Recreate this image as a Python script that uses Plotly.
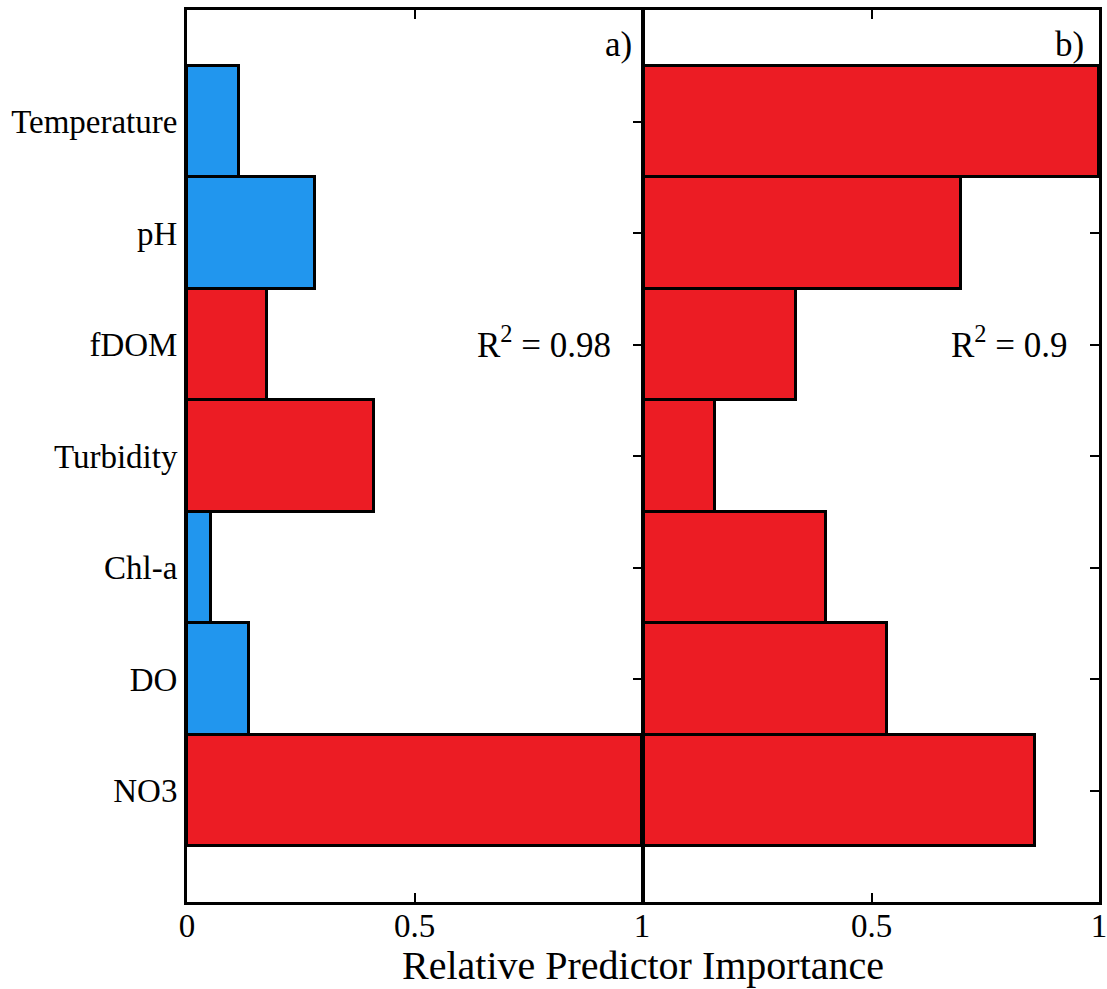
import plotly.graph_objects as go
from plotly.subplots import make_subplots

# Predictors, listed top to bottom
predictors = ["Temperature", "pH", "fDOM", "Turbidity", "Chl-a", "DO", "NO3"]

# Relative predictor importance for the two models
importance_a = [0.115, 0.282, 0.176, 0.41, 0.053, 0.137, 1.0]
importance_b = [1.0, 0.697, 0.333, 0.156, 0.401, 0.535, 0.86]

# Sign of each predictor's effect in model a (True = positive)
positive_a = [False, False, True, True, False, False, True]

r2_a = "0.98"
r2_b = "0.9"

ticks_a = [0, 0.5, 1]
ticklabels_a = ["0", "0.5", "1"]
ticks_b = [0.5, 1]
ticklabels_b = ["0.5", "1"]

RED = "#EC1C24"
BLUE = "#2196EE"
FONT = "Liberation Serif"

colors_a = [RED if p else BLUE for p in positive_a]
colors_b = [RED] * len(importance_b)

fig = make_subplots(rows=1, cols=2, shared_yaxes=True, horizontal_spacing=0.0)

fig.add_trace(go.Bar(x=importance_a, y=predictors, orientation="h", width=1.0,
                     marker=dict(color=colors_a, line=dict(color="black", width=3)),
                     showlegend=False), row=1, col=1)
fig.add_trace(go.Bar(x=importance_b, y=predictors, orientation="h", width=1.0,
                     marker=dict(color=colors_b, line=dict(color="black", width=3)),
                     showlegend=False), row=1, col=2)

axis_common = dict(showline=True, linecolor="black", linewidth=3, mirror="ticks",
                   ticks="inside", ticklen=9, tickwidth=2, tickcolor="black",
                   showgrid=False, zeroline=False, layer="below traces",
                   automargin=False, ticklabeloverflow="allow",
                   tickfont=dict(family=FONT, size=33, color="black"))

fig.update_xaxes(range=[0, 1], tickvals=ticks_a, ticktext=ticklabels_a,
                 domain=[0, 0.4989], ticklabelstandoff=-8, **axis_common, row=1, col=1)
fig.update_xaxes(range=[0, 1], tickvals=ticks_b, ticktext=ticklabels_b,
                 domain=[0.5011, 1], ticklabelstandoff=-8, **axis_common, row=1, col=2)
fig.update_yaxes(type="category", categoryorder="array", categoryarray=predictors,
                 range=[7, -1], **axis_common)
fig.update_yaxes(showticklabels=True, row=1, col=1)
fig.update_yaxes(showticklabels=False, row=1, col=2)

ann_font = dict(family=FONT, size=35, color="black")
fig.add_annotation(text="a)", xref="x domain", yref="y domain", x=0.982, y=0.961,
                   xanchor="right", yanchor="middle", showarrow=False, font=ann_font)
fig.add_annotation(text="b)", xref="x2 domain", yref="y2 domain", x=0.971, y=0.961,
                   xanchor="right", yanchor="middle", showarrow=False, font=ann_font)
fig.add_annotation(text=f"R<sup>2</sup> = {r2_a}", xref="x domain", yref="y domain",
                   x=0.936, y=0.627, xanchor="right", yanchor="middle",
                   showarrow=False, font=ann_font)
fig.add_annotation(text=f"R<sup>2</sup> = {r2_b}", xref="x2 domain", yref="y2 domain",
                   x=0.936, y=0.627, xanchor="right", yanchor="middle",
                   showarrow=False, font=ann_font)
fig.add_annotation(text="Relative Predictor Importance", xref="paper", yref="paper",
                   x=0.5, y=-0.071, xanchor="center", yanchor="middle",
                   showarrow=False, font=dict(family=FONT, size=40, color="black"))

fig.update_layout(width=1107, height=989, bargap=0, barmode="overlay",
                  margin=dict(l=187, r=8, t=10, b=87),
                  paper_bgcolor="white", plot_bgcolor="white",
                  font=dict(family=FONT, color="black"))

fig.write_html("out.html")
